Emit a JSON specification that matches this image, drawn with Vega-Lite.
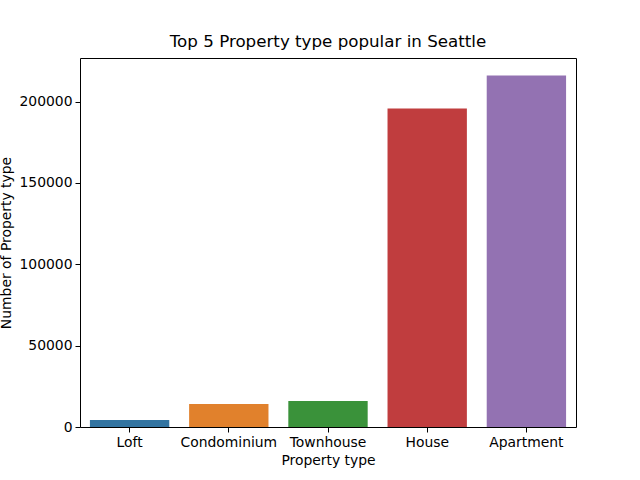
{
  "$schema": "https://vega.github.io/schema/vega-lite/v6.json",
  "width": 496,
  "height": 369,
  "autosize": "none",
  "padding": {"left": 80, "top": 58, "right": 64, "bottom": 53},
  "background": "white",
  "title": {"text": "Top 5 Property type popular in Seattle", "font": "DejaVu Sans", "fontSize": 16.7, "fontWeight": "normal", "color": "black", "offset": 7},
  "data": {"values": [
    {"type": "Loft", "count": 4300},
    {"type": "Condominium", "count": 14100},
    {"type": "Townhouse", "count": 15950},
    {"type": "House", "count": 195700},
    {"type": "Apartment", "count": 216000}
  ]},
  "mark": {"type": "bar"},
  "encoding": {
    "x": {"field": "type", "type": "nominal", "sort": null, "title": "Property type",
      "scale": {"paddingInner": 0.2, "paddingOuter": 0.1},
      "axis": {"labelAngle": 0}},
    "y": {"field": "count", "type": "quantitative", "title": "Number of Property type",
      "scale": {"domain": [0, 226800], "nice": false},
      "axis": {"values": [0, 50000, 100000, 150000, 200000], "format": "d"}},
    "color": {"field": "type", "type": "nominal", "sort": null, "legend": null,
      "scale": {"range": ["#3274a1", "#e1812c", "#3a923a", "#c03d3e", "#9372b2"]}}
  },
  "config": {
    "view": {"stroke": "black", "strokeWidth": 1},
    "axis": {
      "grid": false, "domain": false, "tickColor": "black", "tickSize": 5, "tickWidth": 1,
      "labelFont": "DejaVu Sans", "labelFontSize": 13.9, "labelColor": "black", "labelPadding": 3,
      "titleFont": "DejaVu Sans", "titleFontSize": 13.9, "titleFontWeight": "normal", "titleColor": "black"
    },
    "axisX": {"titlePadding": 5},
    "axisY": {"titlePadding": 5}
  }
}
